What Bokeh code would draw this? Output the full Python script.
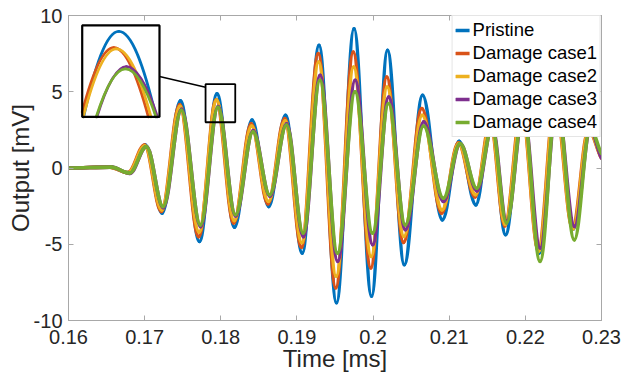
import numpy as np
from bokeh.plotting import figure
from bokeh.models import FixedTicker, LinearAxis, Legend, LegendItem, Range1d
from bokeh.embed import file_html
from bokeh.resources import INLINE

# Peak / trough instants of the received wave packet [ms]
t_knots = [0.1600, 0.1655, 0.1679, 0.1701, 0.1723, 0.1747, 0.1772, 0.1795, 0.1818, 0.1841,
           0.1863, 0.1885, 0.1907, 0.1929, 0.1952, 0.1975, 0.1998, 0.2019, 0.2041, 0.2065,
           0.2091, 0.2113, 0.2135, 0.2155, 0.2174, 0.2196, 0.2218, 0.2240, 0.2263, 0.2284,
           0.2300]

# Output voltage at those instants [mV]
pristine = [0.0, 0.06, -0.30, 1.50, -2.96, 4.40, -4.82, 4.86, -3.88, 3.14,
            -2.53, 3.46, -5.58, 8.04, -8.84, 9.13, -8.41, 7.71, -6.34, 4.77,
            -3.40, 1.75, -2.42, 3.30, -4.38, 4.20, -5.58, 4.50, -4.00, 2.50,
            0.75]
damage1 = [0.0, 0.06, -0.30, 1.50, -2.85, 4.15, -4.50, 4.48, -3.60, 2.90,
           -2.35, 3.25, -5.20, 7.50, -7.86, 7.60, -6.56, 5.97, -4.88, 3.90,
           -2.96, 1.65, -1.90, 3.00, -3.80, 3.90, -5.36, 4.40, -3.90, 2.50,
           0.65]
damage2 = [0.0, 0.06, -0.32, 1.45, -2.75, 4.05, -4.20, 4.45, -3.45, 2.75,
           -2.20, 3.10, -4.90, 6.95, -7.10, 6.62, -5.80, 5.31, -4.49, 3.46,
           -2.75, 1.60, -1.75, 2.90, -3.70, 3.80, -5.45, 4.40, -4.00, 2.50,
           0.70]
damage3 = [0.0, 0.06, -0.36, 1.40, -2.60, 3.85, -3.85, 4.03, -3.15, 2.45,
           -1.85, 2.90, -4.50, 6.08, -6.12, 5.75, -5.03, 4.66, -4.05, 3.03,
           -2.20, 1.60, -1.50, 2.70, -3.50, 3.60, -5.25, 4.20, -3.83, 2.50,
           0.65]
damage4 = [0.0, 0.06, -0.33, 1.40, -2.53, 3.79, -3.73, 3.98, -3.07, 2.37,
           -1.76, 2.81, -4.27, 5.75, -5.58, 4.99, -4.27, 4.23, -3.73, 2.75,
           -1.98, 1.60, -1.33, 2.60, -3.60, 3.70, -6.12, 4.60, -4.71, 2.60,
           0.95]

series_names = ["Pristine", "Damage case1", "Damage case2", "Damage case3", "Damage case4"]
series_values = [pristine, damage1, damage2, damage3, damage4]
series_lag = [0.0, -0.00010, -0.00005, 0.00015, 0.00013]   # small phase shift of each case [ms]
series_colors = ["#0072BD", "#D95319", "#EDB120", "#7E2F8E", "#77AC30"]

x_ticks = [0.16, 0.17, 0.18, 0.19, 0.20, 0.21, 0.22, 0.23]
x_tick_labels = ["0.16", "0.17", "0.18", "0.19", "0.2", "0.21", "0.22", "0.23"]
y_ticks = [-10, -5, 0, 5, 10]
y_tick_labels = ["-10", "-5", "0", "5", "10"]

# zoomed window: data limits shown in the inset and where the inset sits
zoom_x = (0.17878, 0.18030)
zoom_y = (2.85, 5.00)
marker_box = (0.1780, 0.1819, 3.0, 5.5)
inset_box = (0.16180, 0.17195, 3.35, 9.35)
connector = ((0.17195, 6.00), (0.17800, 5.30))

FONT = "Liberation Sans"
TEXT = "#262626"
AXIS = "#a8a8a8"
K = 0.3634          # control-point spacing giving a sine-like half cycle
END_BEND = 0.25


def segments(times, vals):
    """Cubic Bezier pieces joining consecutive extrema with flat tangents."""
    segs = []
    n = len(times)
    for i in range(n - 1):
        x0, x1 = times[i], times[i + 1]
        y0, y1 = vals[i], vals[i + 1]
        dt = x1 - x0
        cy1 = y1 + END_BEND * (y0 - y1) if i == n - 2 else y1
        segs.append([(x0, y0), (x0 + K * dt, y0), (x1 - K * dt, cy1), (x1, y1)])
    return segs


def lerp(a, b, t):
    return tuple((1 - t) * u + t * v for u, v in zip(a, b))


def split(c, t):
    p01, p12, p23 = lerp(c[0], c[1], t), lerp(c[1], c[2], t), lerp(c[2], c[3], t)
    p012, p123 = lerp(p01, p12, t), lerp(p12, p23, t)
    m = lerp(p012, p123, t)
    return [c[0], p01, p012, m], [m, p123, p23, c[3]]


def point(c, t):
    s = 1 - t
    return (s**3 * c[0][0] + 3 * s * s * t * c[1][0] + 3 * s * t * t * c[2][0] + t**3 * c[3][0],
            s**3 * c[0][1] + 3 * s * s * t * c[1][1] + 3 * s * t * t * c[2][1] + t**3 * c[3][1])


def clip(c, xr, yr):
    """Part of a Bezier piece that lies inside the zoom window, as a Bezier piece."""
    inside = []
    for t in np.linspace(0.0, 1.0, 4001):
        x, y = point(c, t)
        if xr[0] <= x <= xr[1] and yr[0] <= y <= yr[1]:
            inside.append(t)
    if len(inside) < 2:
        return None
    t0, t1 = inside[0], inside[-1]
    left, _ = split(c, t1)
    _, piece = split(left, t0 / t1 if t1 > 0 else 0.0)
    return piece


def to_inset(pt):
    x = inset_box[0] + (pt[0] - zoom_x[0]) * (inset_box[1] - inset_box[0]) / (zoom_x[1] - zoom_x[0])
    y = inset_box[2] + (pt[1] - zoom_y[0]) * (inset_box[3] - inset_box[2]) / (zoom_y[1] - zoom_y[0])
    return (x, y)


def bez_dict(segs):
    return dict(x0=[s[0][0] for s in segs], y0=[s[0][1] for s in segs],
                x1=[s[3][0] for s in segs], y1=[s[3][1] for s in segs],
                cx0=[s[1][0] for s in segs], cy0=[s[1][1] for s in segs],
                cx1=[s[2][0] for s in segs], cy1=[s[2][1] for s in segs])


p = figure(width=636, height=374, output_backend="svg", toolbar_location=None,
           x_range=Range1d(x_ticks[0], x_ticks[-1]), y_range=Range1d(y_ticks[0], y_ticks[-1]),
           min_border_left=68, min_border_right=35, min_border_top=15, min_border_bottom=53)
p.grid.visible = False
p.outline_line_color = AXIS
p.background_fill_color = "white"
p.border_fill_color = "white"

# main traces
renderers = []
for name, vals, lag, col in zip(series_names, series_values, series_lag, series_colors):
    times = [t_knots[0]] + [t + lag for t in t_knots[1:-1]] + [t_knots[-1]]
    segs = segments(times, vals)
    r = p.bezier(**bez_dict(segs), line_color=col, line_width=3.6, line_cap="round")
    renderers.append((name, r, segs, col))

# marker box around the zoomed peak and connector to the inset
p.quad(left=[marker_box[0]], right=[marker_box[1]], bottom=[marker_box[2]], top=[marker_box[3]],
       fill_color=None, line_color="black", line_width=1.8)
p.segment(x0=[connector[0][0]], y0=[connector[0][1]], x1=[connector[1][0]], y1=[connector[1][1]],
          line_color="black", line_width=1.5)

# inset with the magnified peak
p.quad(left=[inset_box[0]], right=[inset_box[1]], bottom=[inset_box[2]], top=[inset_box[3]],
       fill_color="white", line_color=None)
for name, r, segs, col in renderers:
    pieces = []
    for s in segs:
        c = clip(s, zoom_x, zoom_y)
        if c is not None:
            pieces.append([to_inset(q) for q in c])
    if pieces:
        p.bezier(**bez_dict(pieces), line_color=col, line_width=2.8, line_cap="round")
p.quad(left=[inset_box[0]], right=[inset_box[1]], bottom=[inset_box[2]], top=[inset_box[3]],
       fill_color=None, line_color="black", line_width=2.2)

# axes
p.xaxis.ticker = FixedTicker(ticks=x_ticks)
p.xaxis.major_label_overrides = dict(zip(x_ticks, x_tick_labels))
p.yaxis.ticker = FixedTicker(ticks=y_ticks)
p.yaxis.major_label_overrides = dict(zip(y_ticks, y_tick_labels))
p.xaxis.axis_label = "Time [ms]"
p.yaxis.axis_label = "Output [mV]"
for ax in [p.xaxis[0], p.yaxis[0]]:
    ax.axis_line_color = AXIS
    ax.major_tick_line_color = AXIS
    ax.major_tick_in = 5
    ax.major_tick_out = 0
    ax.minor_tick_line_color = None
    ax.major_label_text_font = FONT
    ax.major_label_text_font_size = "20px"
    ax.major_label_text_color = TEXT
    ax.axis_label_text_font = FONT
    ax.axis_label_text_font_size = "24px"
    ax.axis_label_text_font_style = "normal"
    ax.axis_label_text_color = TEXT
p.xaxis.major_label_standoff = 9
p.xaxis.axis_label_standoff = -2
p.yaxis.major_label_standoff = 6
p.yaxis.axis_label_standoff = -3

# tick marks on the top and right edges of the box
for loc, ticks in [("above", x_ticks), ("right", y_ticks)]:
    ax = LinearAxis(ticker=FixedTicker(ticks=ticks), axis_line_color=AXIS,
                    major_tick_line_color=AXIS, major_tick_in=5, major_tick_out=0,
                    minor_tick_line_color=None, major_label_text_font_size="0px",
                    major_label_text_color=None, major_label_standoff=0)
    p.add_layout(ax, loc)

legend = Legend(items=[LegendItem(label=name, renderers=[r]) for name, r, _, _ in renderers],
                location="top_right", margin=0, padding=3, spacing=1,
                glyph_width=14, glyph_height=22, label_height=22, label_standoff=3,
                label_text_font=FONT, label_text_font_size="18.5px", label_text_color="black",
                border_line_color="#cccccc", border_line_width=1,
                background_fill_color="white", background_fill_alpha=1.0)
p.add_layout(legend)

open("out.html", "w").write(file_html(p, INLINE))
